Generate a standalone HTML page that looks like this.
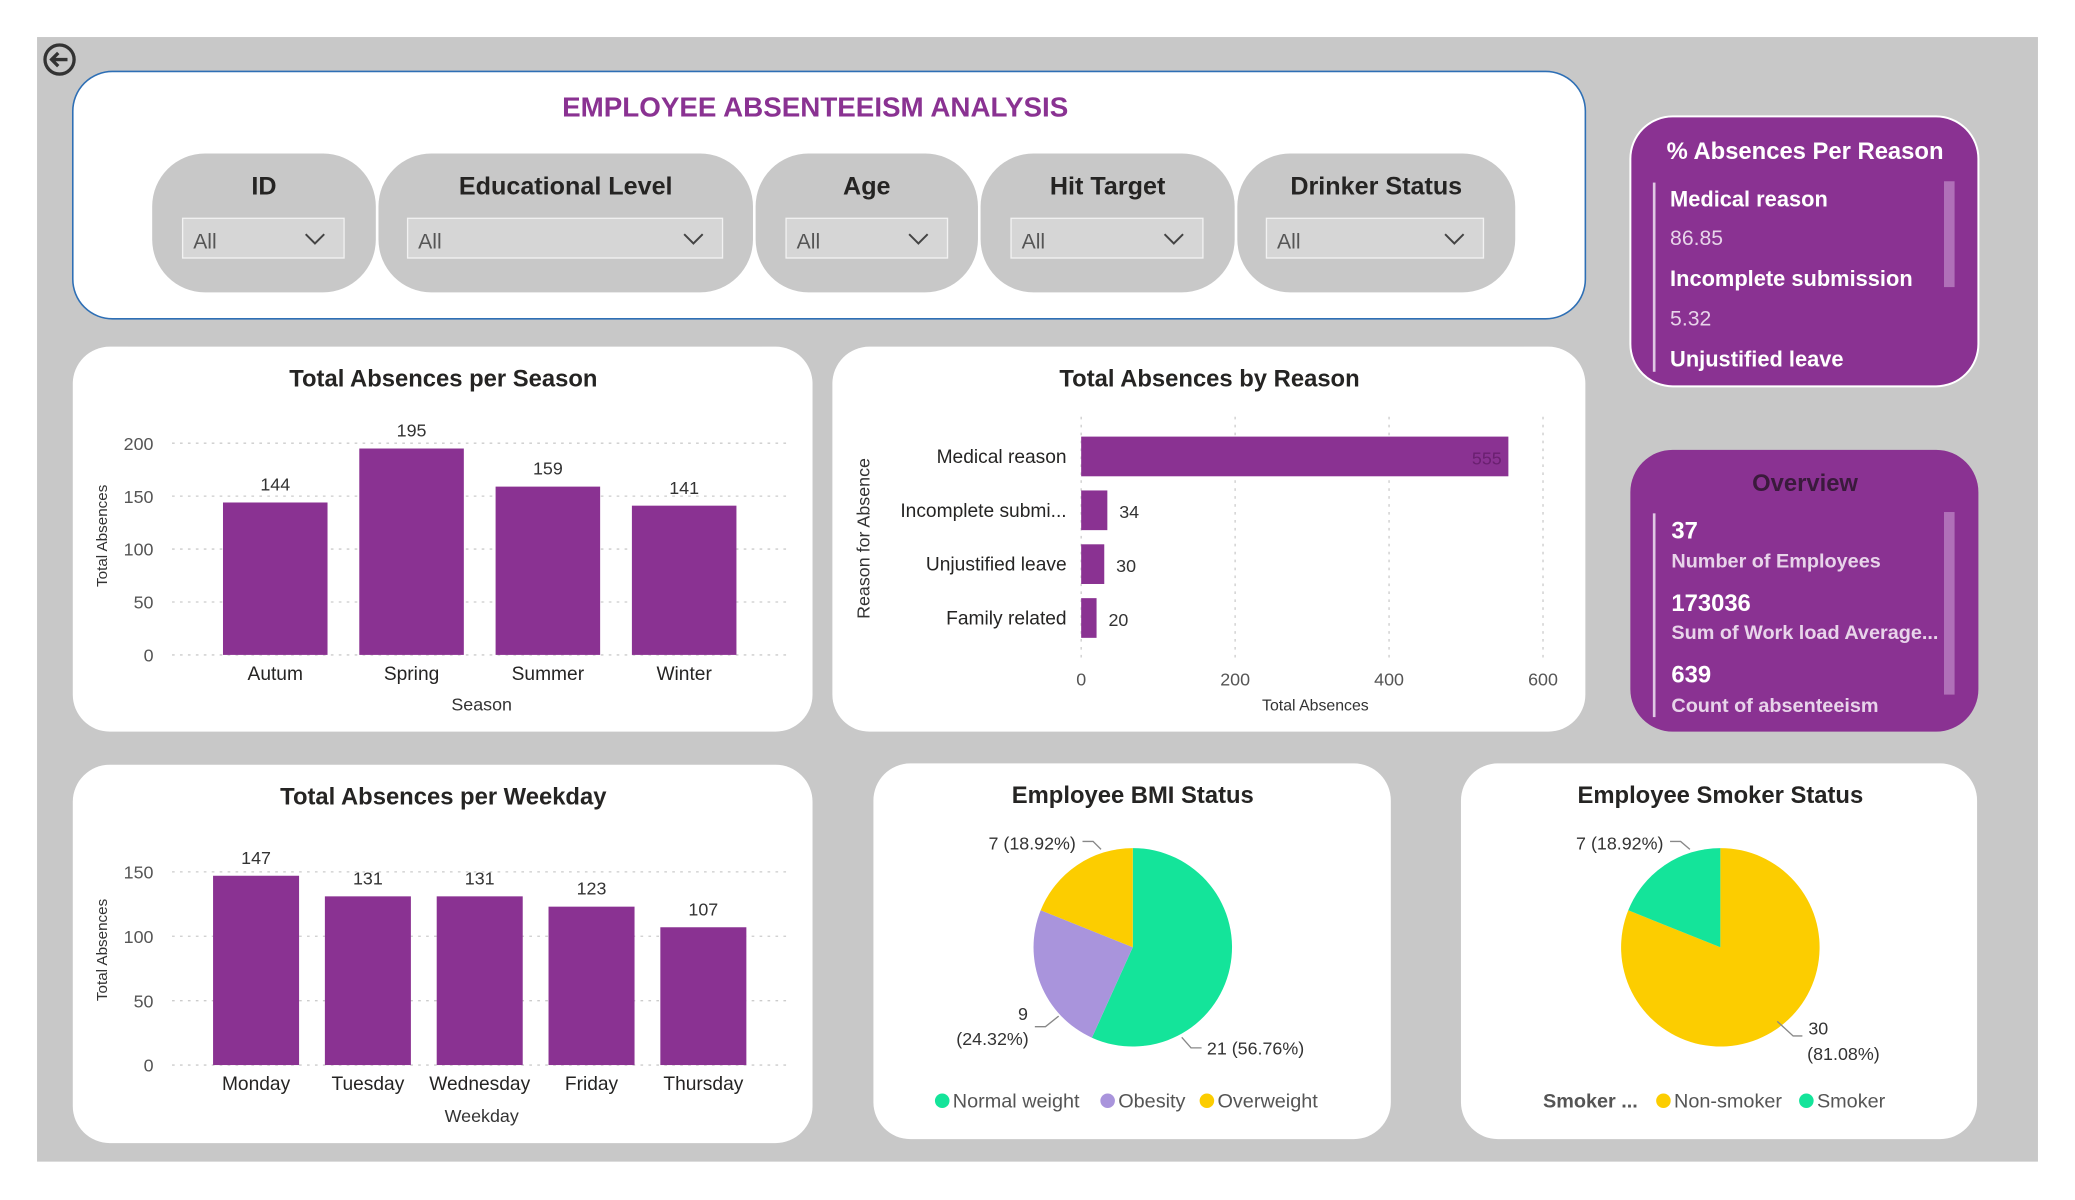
<!DOCTYPE html>
<html><head><meta charset="utf-8">
<style>
html,body{margin:0;padding:0;background:#fff;width:2075px;height:1200px;overflow:hidden}
svg{display:block}
text{font-family:"Liberation Sans",sans-serif}
</style></head>
<body>
<svg id="root" width="2075" height="1200" viewBox="0 0 1568 907" preserveAspectRatio="none" xmlns="http://www.w3.org/2000/svg">
<rect x="28" y="28" width="1512" height="850" fill="#c8c8c8"/>
<g>
<circle cx="45" cy="45" r="11" fill="none" stroke="#333" stroke-width="2.5"/>
<path d="M51 45 H39 M44 40 L39 45 L44 50" fill="none" stroke="#333" stroke-width="2.5"/>
</g>
<rect x="55" y="54" width="1143" height="187" rx="30" fill="#fff" stroke="#2e6fb5" stroke-width="1.2"/>
<text x="616" y="88" text-anchor="middle" font-size="21" font-weight="bold" fill="#8a3292">EMPLOYEE ABSENTEEISM ANALYSIS</text>
<g id="slicers"></g>
<g>
<rect x="1232" y="88" width="263" height="204" rx="32" fill="#8a3292" stroke="#fff" stroke-width="1.5"/>
<text x="1364" y="120" text-anchor="middle" font-size="18" font-weight="bold" fill="#fff">% Absences Per Reason</text>
<rect x="1249" y="138" width="2" height="143" fill="#e0c8e4"/>
<rect x="1469" y="137" width="8" height="80" fill="#b070b8"/>
<text x="1262" y="156" font-size="16.5" font-weight="bold" fill="#fff">Medical reason</text>
<text x="1262" y="185" font-size="16" fill="#e8d4ea">86.85</text>
<text x="1262" y="216" font-size="16.5" font-weight="bold" fill="#fff">Incomplete submission</text>
<text x="1262" y="246" font-size="16" fill="#e8d4ea">5.32</text>
<text x="1262" y="277" font-size="16.5" font-weight="bold" fill="#fff">Unjustified leave</text>
</g>
<g>
<rect x="1232" y="340" width="263" height="213" rx="32" fill="#8a3292"/>
<text x="1364" y="371" text-anchor="middle" font-size="18" font-weight="bold" fill="#3a1a3c">Overview</text>
<rect x="1249" y="388" width="2" height="154" fill="#e0c8e4"/>
<rect x="1469" y="387" width="8" height="138" fill="#b070b8"/>
<text x="1263" y="407" font-size="18" font-weight="bold" fill="#fff">37</text>
<text x="1263" y="429" font-size="15" font-weight="bold" fill="#e8d4ea">Number of Employees</text>
<text x="1263" y="462" font-size="18" font-weight="bold" fill="#fff">173036</text>
<text x="1263" y="483" font-size="15" font-weight="bold" fill="#e8d4ea">Sum of Work load Average...</text>
<text x="1263" y="516" font-size="18" font-weight="bold" fill="#fff">639</text>
<text x="1263" y="538" font-size="15" font-weight="bold" fill="#e8d4ea">Count of absenteeism</text>
</g>
<rect x="55" y="262" width="559" height="291" rx="28" fill="#fff"/>
<rect x="629" y="262" width="569" height="291" rx="28" fill="#fff"/>
<rect x="55" y="578" width="559" height="286" rx="28" fill="#fff"/>
<rect x="660" y="577" width="391" height="284" rx="28" fill="#fff"/>
<rect x="1104" y="577" width="390" height="284" rx="28" fill="#fff"/>
<text x="335" y="292" text-anchor="middle" font-size="18" font-weight="bold" fill="#252423">Total Absences per Season</text>
<text x="914" y="292" text-anchor="middle" font-size="18" font-weight="bold" fill="#252423">Total Absences by Reason</text>
<text x="335" y="608" text-anchor="middle" font-size="18" font-weight="bold" fill="#252423">Total Absences per Weekday</text>
<text x="856" y="607" text-anchor="middle" font-size="18" font-weight="bold" fill="#252423">Employee BMI Status</text>
<text x="1300" y="607" text-anchor="middle" font-size="18" font-weight="bold" fill="#252423">Employee Smoker Status</text>
<text transform="translate(81,405) rotate(-90)" text-anchor="middle" font-size="11.5" fill="#333">Total Absences</text>
<text x="364" y="537" text-anchor="middle" font-size="13.5" fill="#333">Season</text>
<text transform="translate(81,718) rotate(-90)" text-anchor="middle" font-size="11.5" fill="#333">Total Absences</text>
<text x="364" y="848" text-anchor="middle" font-size="13.5" fill="#333">Weekday</text>
<text transform="translate(657,407) rotate(-90)" text-anchor="middle" font-size="13.5" fill="#333">Reason for Absence</text>
<text x="994" y="537" text-anchor="middle" font-size="12" fill="#333">Total Absences</text>
<g id="season"></g><g id="weekday"></g><g id="reason"></g><g id="bmi"></g><g id="smoker"></g>
</svg>
<script>
const seasonCats=["Autum","Spring","Summer","Winter"];
const seasonVals=[144,195,159,141];
const seasonTicks=[0,50,100,150,200];
const weekdayCats=["Monday","Tuesday","Wednesday","Friday","Thursday"];
const weekdayVals=[147,131,131,123,107];
const weekdayTicks=[0,50,100,150];
const reasonCats=["Medical reason","Incomplete submi...","Unjustified leave","Family related"];
const reasonVals=[555,34,30,20];
const reasonTicks=[0,200,400,600];
const bmiCats=["Normal weight","Obesity","Overweight"];
const bmiVals=[21,9,7];
const smokerCats=["Non-smoker","Smoker"];
const smokerVals=[30,7];
const slicerNames=["ID","Educational Level","Age","Hit Target","Drinker Status"];

const NS="http://www.w3.org/2000/svg";
const PURPLE="#8a3292";
function mk(tag,attrs,parent,txt){const e=document.createElementNS(NS,tag);for(const k in attrs)e.setAttribute(k,attrs[k]);if(txt!==undefined)e.textContent=txt;parent.appendChild(e);return e;}

(function(){
 const g=document.getElementById('slicers');
 const xs=[[115,284],[286,569],[571,739],[741,933],[935,1145]];
 const box=[[138,260],[308,546],[594,716],[764,909],[957,1121]];
 slicerNames.forEach((n,i)=>{
  const s=mk('g',{},g);
  
  
  mk('rect',{x:xs[i][0],y:116,width:xs[i][1]-xs[i][0],height:105,rx:40,fill:"#c8c8c8"},s);
  mk('text',{x:(xs[i][0]+xs[i][1])/2,y:147,'text-anchor':'middle','font-size':19,'font-weight':'bold',fill:'#252423'},s,n);
  const d=mk('g',{},s);
  
  
  mk('rect',{x:box[i][0],y:165,width:box[i][1]-box[i][0],height:30,fill:"#d6d6d6",stroke:"#f2f2f2",'stroke-width':1},d);
  mk('text',{x:box[i][0]+8,y:188,'font-size':16,fill:'#555'},d,'All');
  const ax=box[i][1]-22;
  mk('path',{d:`M${ax-7} 177 L${ax} 184 L${ax+7} 177`,fill:'none',stroke:'#444','stroke-width':1.5},d);
 });
})();

function vbar(id,cats,vals,ticks,o){
 const g=document.getElementById(id);
 const y=v=>o.y0-(v-ticks[0])/(ticks[ticks.length-1]-ticks[0])*(o.y0-o.y1);
 ticks.forEach(t=>{
  const l=mk('line',{x1:o.gx0,x2:o.gx1,y1:y(t),y2:y(t),stroke:'#ccc','stroke-dasharray':'2 4','stroke-width':1},g);
   
  const tl=mk('text',{x:116,y:y(t)+5,'text-anchor':'end','font-size':13.5,fill:'#555'},g,t);
   
 });
 cats.forEach((c,i)=>{
  const cx=o.c0+i*o.step, v=vals[i];
  const b=mk('rect',{x:cx-o.w/2,y:y(v),width:o.w,height:o.y0-y(v),fill:PURPLE},g);
   
  const vl=mk('text',{x:cx,y:y(v)-9,'text-anchor':'middle','font-size':13.5,fill:'#333'},g,v);
   
  const xl=mk('text',{x:cx,y:o.y0+19,'text-anchor':'middle','font-size':14.5,fill:'#252423'},g,c);
   
 });
}
vbar('season',seasonCats,seasonVals,seasonTicks,{y0:495,y1:335,gx0:130,gx1:598,c0:208,step:103,w:79});
vbar('weekday',weekdayCats,weekdayVals,weekdayTicks,{y0:805,y1:659,gx0:130,gx1:598,c0:193.5,step:84.5,w:65});

(function(){
 const g=document.getElementById('reason');
 const x=v=>817+v/600*(1166-817);
 reasonTicks.forEach(t=>{
  const l=mk('line',{x1:x(t),x2:x(t),y1:315,y2:497,stroke:'#ccc','stroke-dasharray':'2 4'},g);
   
  const tl=mk('text',{x:x(t),y:518,'text-anchor':'middle','font-size':13.5,fill:'#555'},g,t);
   
 });
 reasonCats.forEach((c,i)=>{
  const cy=345+i*40.7, v=reasonVals[i];
  const b=mk('rect',{x:817,y:cy-15,width:x(v)-817,height:30,fill:PURPLE},g);
   
  const inside=(x(v)-817)>60;
  const vl=mk('text',{x:inside?x(v)-5:x(v)+9,y:cy+6,'text-anchor':inside?'end':'start','font-size':13.5,fill:inside?'#6a2070':'#333'},g,v);
   
  const yl=mk('text',{x:806,y:cy+5,'text-anchor':'end','font-size':14.5,fill:'#252423'},g,c);
   
 });
})();

function pie(id,cats,vals,colors,cx,cy,r,labels,legend){
 const g=document.getElementById(id);
 const tot=vals.reduce((a,b)=>a+b,0);
 let a=0;
 const pt=(ang,rr)=>[cx+rr*Math.sin(ang),cy-rr*Math.cos(ang)];
 cats.forEach((c,i)=>{
  const a1=a+vals[i]/tot*2*Math.PI;
  const p0=pt(a,r),p1=pt(a1,r);
  const s=mk('path',{d:`M${cx} ${cy} L${p0[0]} ${p0[1]} A${r} ${r} 0 ${a1-a>Math.PI?1:0} 1 ${p1[0]} ${p1[1]} Z`,fill:colors[i]},g);
   
  const lp=labels[i];
  const pct=(vals[i]/tot*100).toFixed(2);
  const ln=mk('polyline',{points:`${lp.sx},${lp.sy} ${lp.lx},${lp.ly} ${lp.lx2},${lp.ly}`,fill:'none',stroke:'#888'},g);
   
  if(lp.split){
   const t1=mk('text',{x:lp.tx,y:lp.ty,'text-anchor':'middle','font-size':13.5,fill:'#333'},g,vals[i]);
    
   const t2=mk('text',{x:lp.tx2,y:lp.ty+19,'text-anchor':'middle','font-size':13.5,fill:'#333'},g,'('+pct+'%)');
    
  } else {
   const t=mk('text',{x:lp.tx,y:lp.ty,'text-anchor':lp.anchor,'font-size':13.5,fill:'#333'},g,vals[i]+' ('+pct+'%)');
    
  }
  a=a1;
 });
 let lx=legend.x;
 if(legend.title){
  const t=mk('text',{x:lx,y:legend.y+5,'font-size':15,'font-weight':'bold',fill:'#555'},g,legend.title);
   
  lx+=legend.titleW;
 }
 legend.order.forEach((k,j)=>{
  const i=cats.indexOf(k);
  const le=mk('g',{},g);
   
  mk('circle',{cx:lx+6,cy:legend.y,r:5.5,fill:colors[i]},le);
  mk('text',{x:lx+14,y:legend.y+5,'font-size':15,fill:'#555'},le,k);
  lx+=legend.w[j];
 });
}
const GREEN="#14e49a",YEL="#fccd00",LAV="#a994dc";
pie('bmi',bmiCats,bmiVals,[GREEN,LAV,YEL],856,716,75,[
 {sx:893,sy:784,lx:900,ly:792,lx2:908,tx:912,ty:797,anchor:'start'},
 {sx:800,sy:768,lx:790,ly:776,lx2:782,split:true,tx:773,tx2:750,ty:771},
 {sx:832,sy:642,lx:826,ly:636,lx2:818,tx:813,ty:642,anchor:'end'}
],{x:706,y:832,order:["Normal weight","Obesity","Overweight"],w:[125,75,100]});
pie('smoker',smokerCats,smokerVals,[YEL,GREEN],1300,716,75,[
 {sx:1343,sy:772,lx:1355,ly:783,lx2:1362,split:true,tx:1374,tx2:1393,ty:782},
 {sx:1277,sy:642,lx:1270,ly:636,lx2:1262,tx:1257,ty:642,anchor:'end'}
],{x:1166,y:832,title:"Smoker ...",titleW:85,order:["Non-smoker","Smoker"],w:[108,80]});
</script>
</body></html>
